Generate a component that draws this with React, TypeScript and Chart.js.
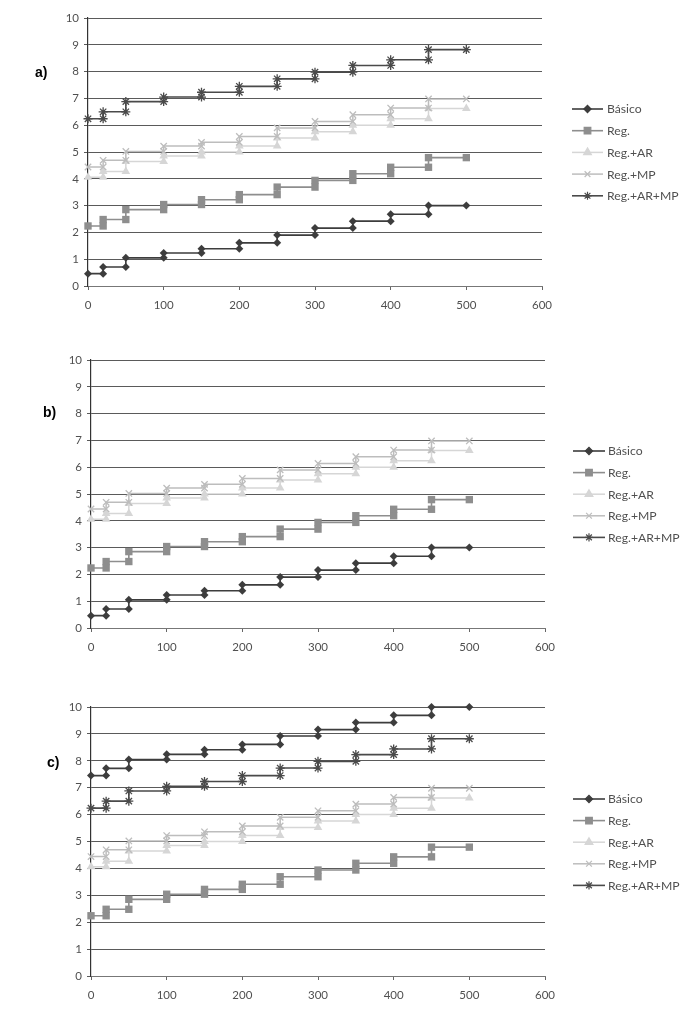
import React, { useEffect, useRef } from "react";
import { Chart, registerables } from "chart.js";
import { drawPoint } from "chart.js/helpers";

Chart.register(...registerables);

// ---- data ----
const xSteps = [0, 20, 50, 100, 150, 200, 250, 300, 350, 400, 450, 500];
const xTicks = [0, 100, 200, 300, 400, 500, 600];
const yTicks = [0, 1, 2, 3, 4, 5, 6, 7, 8, 9, 10];
const seriesNames = ["Básico", "Reg.", "Reg.+AR", "Reg.+MP", "Reg.+AR+MP"];

// plateau level of each step segment (0-20, 20-50, 50-100, ... , 450-500)
const basicoAB = [0.46, 0.71, 1.05, 1.23, 1.39, 1.61, 1.9, 2.16, 2.42, 2.68, 3.0];
const basicoC = [7.45, 7.72, 8.05, 8.24, 8.41, 8.61, 8.92, 9.16, 9.42, 9.69, 10.0];
const reg = [2.24, 2.48, 2.85, 3.04, 3.22, 3.41, 3.69, 3.94, 4.19, 4.43, 4.79];
const regAR = [4.06, 4.27, 4.65, 4.85, 5.0, 5.22, 5.52, 5.76, 6.0, 6.24, 6.62];
const regMP = [4.44, 4.69, 5.02, 5.22, 5.36, 5.58, 5.9, 6.14, 6.39, 6.64, 6.98];
const regARMP = [6.24, 6.5, 6.88, 7.05, 7.23, 7.45, 7.73, 7.98, 8.23, 8.44, 8.82];

// ---- styles ----
const styles = [
  { color: "#3d3d3d", point: "rectRot", radius: 4, lw: 1.6, fill: true },
  { color: "#8e8e8e", point: "rect", radius: 5.2, lw: 1.6, fill: true },
  { color: "#d6d6d6", point: "triangle", radius: 5, lw: 1.5, fill: true },
  { color: "#bdbdbd", point: "crossRot", radius: 4.5, lw: 1.5, fill: false },
  { color: "#4a4a4a", point: "star", radius: 4.5, lw: 1.6, fill: false },
];

const FONT = "Lato, 'Open Sans', sans-serif";

function stepPoints(levels: number[]) {
  const pts = [{ x: xSteps[0], y: levels[0] }];
  for (let i = 1; i < xSteps.length; i++) {
    pts.push({ x: xSteps[i], y: levels[i - 1] });
    if (i < levels.length) pts.push({ x: xSteps[i], y: levels[i] });
  }
  return pts;
}

type Panel = {
  label: string;
  labelX: number;
  labelY: number;
  top: number;
  height: number;
  area: { l: number; r: number; t: number; b: number };
  legendY: number;
  legendStep: number;
  lineX0: number;
  lineX1: number;
  textX: number;
  series: (number[] | null)[];
};

const panels: Panel[] = [
  {
    label: "a)", labelX: 35, labelY: 72, top: 0, height: 335,
    area: { l: 88, r: 542, t: 18, b: 286 },
    legendY: 109, legendStep: 21.7, lineX0: 572, lineX1: 603, textX: 607,
    series: [basicoAB, reg, regAR, regMP, regARMP],
  },
  {
    label: "b)", labelX: 43, labelY: 412, top: 340, height: 335,
    area: { l: 91, r: 545, t: 360, b: 628 },
    legendY: 451, legendStep: 21.6, lineX0: 573, lineX1: 605, textX: 608,
    series: [basicoAB, reg, regAR, regMP, null],
  },
  {
    label: "c)", labelX: 47, labelY: 762, top: 685, height: 330,
    area: { l: 91, r: 545, t: 707, b: 976 },
    legendY: 799, legendStep: 21.6, lineX0: 573, lineX1: 605, textX: 608,
    series: [basicoC, reg, regAR, regMP, regARMP],
  },
];

const Y_AXIS_W = 40;
const X_AXIS_H = 30;

function legendPlugin(p: Panel) {
  return {
    id: "stepLegend",
    afterDraw(chart: any) {
      const ctx = chart.ctx as CanvasRenderingContext2D;
      ctx.save();
      seriesNames.forEach((name, i) => {
        const s = styles[i];
        const y = p.legendY + i * p.legendStep - p.top;
        ctx.strokeStyle = s.color;
        ctx.lineWidth = s.lw;
        ctx.beginPath();
        ctx.moveTo(p.lineX0, y);
        ctx.lineTo(p.lineX1, y);
        ctx.stroke();
        ctx.fillStyle = s.color;
        ctx.strokeStyle = s.color;
        ctx.lineWidth = 1.2;
        drawPoint(ctx, { pointStyle: s.point as any, radius: s.radius * 0.9, rotation: 0, borderWidth: 1.2 } as any, (p.lineX0 + p.lineX1) / 2, y);
        ctx.fillStyle = "#505050";
        ctx.font = `12.2px ${FONT}`;
        ctx.textBaseline = "middle";
        ctx.textAlign = "left";
        ctx.fillText(name, p.textX, y + 0.5);
      });
      ctx.restore();
    },
  };
}

function PanelChart({ p }: { p: Panel }) {
  const ref = useRef<HTMLCanvasElement>(null);
  useEffect(() => {
    const canvas = ref.current!;
    const datasets = p.series.map((lv, i) => {
      const s = styles[i];
      return {
        label: seriesNames[i],
        data: lv ? stepPoints(lv) : [],
        borderColor: s.color,
        backgroundColor: s.fill ? s.color : "rgba(0,0,0,0)",
        pointBackgroundColor: s.fill ? s.color : "rgba(0,0,0,0)",
        pointBorderColor: s.color,
        pointBorderWidth: s.fill ? 0 : 1.3,
        pointStyle: s.point,
        pointRadius: s.radius,
        pointHoverRadius: s.radius,
        borderWidth: s.lw,
        tension: 0,
        fill: false,
        clip: false as any,
        order: 4 - i,
      };
    });
    const chart = new Chart(canvas, {
      type: "line",
      data: { datasets },
      options: {
        responsive: false,
        animation: false,
        events: [],
        layout: {
          padding: {
            left: p.area.l - Y_AXIS_W,
            right: 693 - p.area.r,
            top: p.area.t - p.top,
            bottom: p.height - (p.area.b - p.top) - X_AXIS_H,
          },
        },
        plugins: { legend: { display: false }, tooltip: { enabled: false } },
        scales: {
          x: {
            type: "linear",
            min: 0,
            max: 600,
            afterBuildTicks: (sc: any) => { sc.ticks = xTicks.map((v) => ({ value: v })); },
            afterFit: (sc: any) => { sc.height = X_AXIS_H; },
            grid: { drawOnChartArea: false, drawTicks: true, tickLength: 4, color: "#666" },
            border: { display: true, color: "#777", width: 1 },
            ticks: { font: { family: FONT, size: 11.5 }, color: "#505050", padding: 8, maxRotation: 0 },
          },
          y: {
            type: "linear",
            min: 0,
            max: 10,
            afterBuildTicks: (sc: any) => { sc.ticks = yTicks.map((v) => ({ value: v })); },
            afterFit: (sc: any) => { sc.width = Y_AXIS_W; },
            grid: { color: "#5a5a5a", lineWidth: 1, tickLength: 4, drawTicks: true },
            border: { display: true, color: "#333", width: 1.2 },
            ticks: { font: { family: FONT, size: 11.5 }, color: "#505050", padding: 5 },
          },
        },
      },
      plugins: [legendPlugin(p)],
    } as any);
    return () => chart.destroy();
  }, [p]);
  return (
    <>
      <canvas
        ref={ref}
        width={693}
        height={p.height}
        style={{ position: "absolute", left: 0, top: p.top, width: 693, height: p.height }}
      />
      <div
        style={{
          position: "absolute",
          left: p.labelX,
          top: p.labelY - 9,
          font: "bold 14px 'Liberation Sans', Arial, sans-serif",
          color: "#000",
          lineHeight: "18px",
        }}
      >
        {p.label}
      </div>
    </>
  );
}

export default function App() {
  return (
    <div style={{ position: "absolute", left: 0, top: 0, width: 693, height: 1015, background: "#fff", overflow: "hidden" }}>
      {panels.map((p) => (
        <PanelChart key={p.label} p={p} />
      ))}
    </div>
  );
}
